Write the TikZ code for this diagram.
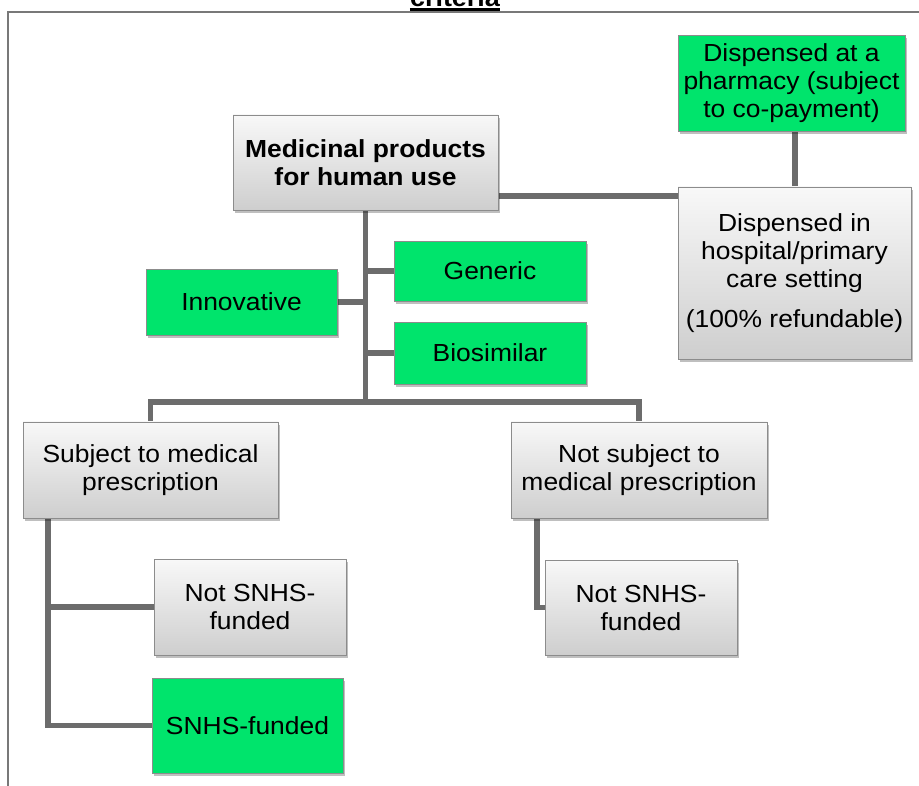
\documentclass[tikz,border=0pt]{standalone}
\usepackage{fontspec}
\setmainfont{Liberation Sans}[FakeStretch=1.07]
\usetikzlibrary{shadows,backgrounds}
\definecolor{boxgreen}{RGB}{0,228,108}
\definecolor{linegray}{RGB}{108,108,108}
\definecolor{bordergray}{RGB}{140,140,140}
\definecolor{topgray}{RGB}{248,248,248}
\definecolor{botgray}{RGB}{206,206,206}
\definecolor{framegray}{RGB}{120,120,120}
\begin{document}
\begin{tikzpicture}[x=1pt,y=-1pt,
  box/.style={rectangle, draw=bordergray, line width=0.8pt, inner sep=0pt, align=center,
    font=\fontsize{24.7}{28}\selectfont, text=black,
    drop shadow={shadow xshift=1.5pt, shadow yshift=-3pt, fill=black, opacity=0.25}},
  graybox/.style={box, top color=topgray, bottom color=botgray},
  greenbox/.style={box, fill=boxgreen, draw=black!45},
  conn/.style={draw=linegray, line width=5.5pt}]
\useasboundingbox (0,0) rectangle (919,786);

% title and frame
\node[anchor=base, inner sep=0pt, font=\fontsize{25.2}{28}\selectfont\bfseries] (title) at (455,6.5) {criteria};
\draw[line width=3pt] ([yshift=-3pt]title.base west) -- ([yshift=-3pt]title.base east);
\draw[framegray, line width=2pt] (8,786) -- (8,12.5) -- (919,12.5);

% nodes
\node[graybox, minimum width=265pt, minimum height=95pt, font=\fontsize{24.7}{28}\selectfont\bfseries] (med) at (365.5,162.5) {Medicinal products\\for human use};
\node[greenbox, minimum width=227pt, minimum height=96pt] (pharm) at (791.5,83) {Dispensed at a\\pharmacy (subject\\to co-payment)};
\node[graybox, minimum width=233pt, minimum height=172pt] (hosp) at (794.5,273) {Dispensed in\\hospital/primary\\care setting\\[12pt](100\% refundable)};
\node[greenbox, minimum width=192pt, minimum height=60pt] (generic) at (490,271) {Generic};
\node[greenbox, minimum width=191pt, minimum height=66pt] (innov) at (241.5,302) {Innovative};
\node[greenbox, minimum width=192pt, minimum height=62pt] (bios) at (490,353) {Biosimilar};
\node[graybox, minimum width=255pt, minimum height=96pt] (subj) at (150.5,470) {Subject to medical\\prescription};
\node[graybox, minimum width=256pt, minimum height=96pt] (notsubj) at (639,470) {Not subject to\\medical prescription};
\node[graybox, minimum width=192pt, minimum height=96pt] (nsL) at (250,607) {Not SNHS-\\funded};
\node[greenbox, minimum width=191pt, minimum height=95pt] (snhs) at (247.5,725.5) {SNHS-funded};
\node[graybox, minimum width=192pt, minimum height=95pt] (nsR) at (641,607.5) {Not SNHS-\\funded};

% connectors
\coordinate (barL) at (150.5,402);
\coordinate (barR) at (639,402);
\coordinate (hy) at (0,196);
\coordinate (px) at (795,0);
\coordinate (sx) at (48,0);
\coordinate (nx) at (537,0);
\begin{scope}[on background layer]
\fill[white] (0,0) rectangle (919,786);
\draw[conn] (med.south) -- (med.south |- barL);
\draw[conn] (subj.north) -- (barL) -- (barR) -- (notsubj.north);
\draw[conn] (generic.west) -- (generic.west -| med.south);
\draw[conn] (bios.west) -- (bios.west -| med.south);
\draw[conn] (innov.east) -- (innov.east -| med.south);
\draw[conn] (med.east |- hy) -- (hosp.west |- hy);
\draw[conn] (pharm.south -| px) -- (hosp.north -| px);
\draw[conn] (subj.south -| sx) -- (sx |- snhs.west) -- (snhs.west);
\draw[conn] (sx |- nsL.west) -- (nsL.west);
\draw[conn] (notsubj.south -| nx) -- (nx |- nsR.west) -- (nsR.west);
\end{scope}
\end{tikzpicture}
\end{document}
